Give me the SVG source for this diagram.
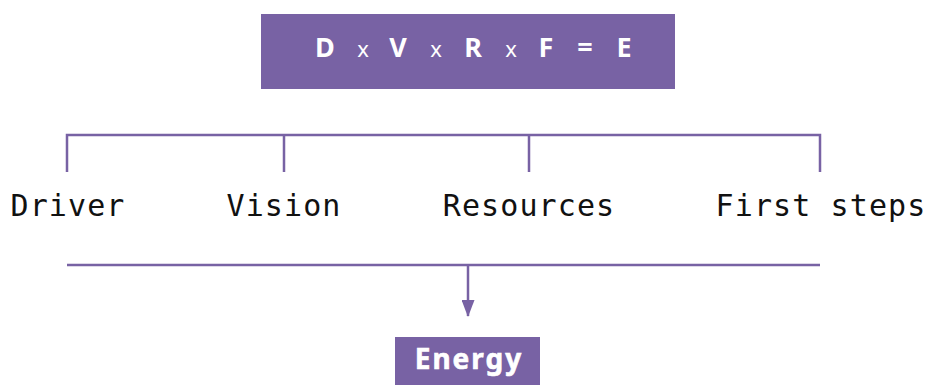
<svg xmlns="http://www.w3.org/2000/svg" width="928" height="385" viewBox="0 0 928 385">
<style>
.box{fill:#7862a4}
.ln{stroke:#7862a4;stroke-width:2.5;fill:none}
.lbl{font-family:"DejaVu Sans Mono","Liberation Mono",monospace;font-size:30px;fill:#111;text-anchor:middle;letter-spacing:1.1px}
.eqb{font-family:"Noto Sans","DejaVu Sans",sans-serif;font-weight:bold;font-size:27px;fill:#fff;text-anchor:middle}
.eqx{font-family:"Noto Sans","DejaVu Sans",sans-serif;font-size:22px;fill:#fff;text-anchor:middle}
.en{font-family:"Noto Sans","DejaVu Sans",sans-serif;font-weight:bold;font-size:28px;fill:#fff;text-anchor:middle;letter-spacing:2px;stroke:#fff;stroke-width:0.6}
</style>
<defs>
<marker id="ah" markerWidth="17" markerHeight="13" refX="16" refY="6.5" orient="auto" markerUnits="userSpaceOnUse">
<path d="M0,0 L17,6.5 L0,13 Z" fill="#7862a4"/>
</marker>
</defs>
<g id="formula">
<rect class="box" x="261" y="14" width="414" height="75"/>
<text class="eqb" x="325" y="57">D</text>
<text class="eqx" x="363" y="57">x</text>
<text class="eqb" x="398" y="57">V</text>
<text class="eqx" x="436" y="57">x</text>
<text class="eqb" x="473" y="57">R</text>
<text class="eqx" x="511" y="57">x</text>
<text class="eqb" x="546" y="57">F</text>
<text class="eqb" x="585" y="57">=</text>
<text class="eqb" x="624" y="57">E</text>
</g>
<g id="connectors">
<path class="ln" d="M67,172 V135 H820 V172 M284,135 V172 M529,135 V172"/>
<path class="ln" d="M67,265 H820"/>
<path class="ln" d="M468,265 V316" marker-end="url(#ah)"/>
</g>
<g id="driver"><text class="lbl" x="68" y="216">Driver</text></g>
<g id="vision"><text class="lbl" x="284" y="216">Vision</text></g>
<g id="resources"><text class="lbl" x="529" y="216">Resources</text></g>
<g id="firststeps"><text class="lbl" x="821" y="216">First steps</text></g>
<g id="energy">
<rect class="box" x="395" y="337" width="145" height="48"/>
<text class="en" x="469" y="369">Energy</text>
</g>
</svg>
